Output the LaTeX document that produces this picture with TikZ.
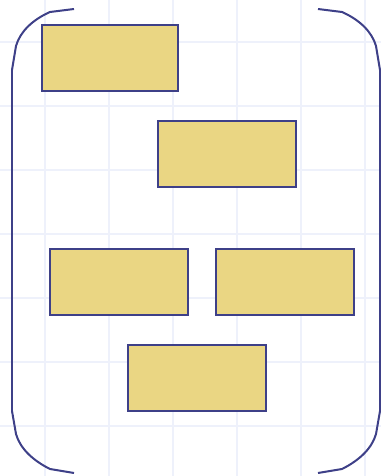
\documentclass[tikz,border=0pt]{standalone}
\usepackage{tikz}
\definecolor{gridblue}{HTML}{EEF1FB}
\definecolor{boxfill}{HTML}{EAD683}
\definecolor{inkblue}{HTML}{3E4088}
\tikzset{blk/.style={draw=inkblue, fill=boxfill, line width=0.04cm, inner sep=0pt,
  minimum width=2.76cm, minimum height=1.32cm}}

\begin{document}
\begin{tikzpicture}[x=0.02cm,y=-0.02cm]
\useasboundingbox (0,0) rectangle (381,476);
% grid
\foreach \gx in {45,109,...,365}
  \draw[gridblue, line width=0.03cm] (\gx,0) -- (\gx,476);
\foreach \gy in {42,106,...,426}
  \draw[gridblue, line width=0.03cm] (0,\gy) -- (381,\gy);
% brackets
\draw[inkblue, line width=0.04cm, line join=round] (74,9) -- (50,12) .. controls (32,20) and (20,32) .. (16,46) -- (12,70) -- (12,411) -- (16,434) .. controls (20,448) and (32,460) .. (50,469) -- (74,473);
\draw[inkblue, line width=0.04cm, line join=round] (318,9) -- (342,12) .. controls (360,20) and (372,32) .. (376,46) -- (380,70) -- (380,411) -- (376,434) .. controls (372,448) and (360,460) .. (342,469) -- (318,473);
% boxes
\node[blk, minimum width=2.72cm] (b1) at (110,58) {};
\node[blk] (b2) at (227,154) {};
\node[blk] (b3) at (119,282) {};
\node[blk] (b4) at (285,282) {};
\node[blk] (b5) at (197,378) {};
\end{tikzpicture}
\end{document}
